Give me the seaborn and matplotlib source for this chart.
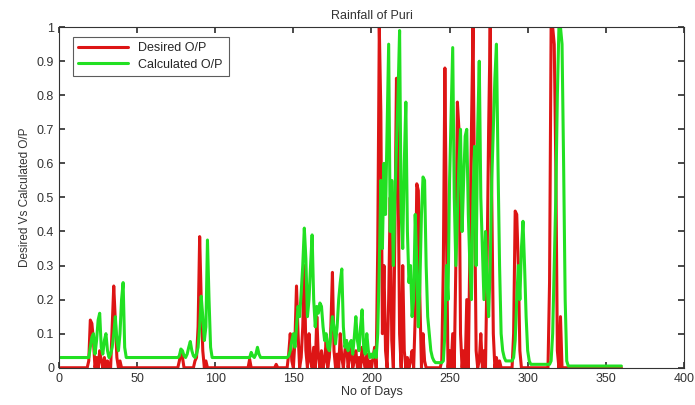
import pandas as pd
import numpy as np
import seaborn as sns
import matplotlib.pyplot as plt

# Valores diarios (dias 1..360)
deseado = (
    [0, 0, 0, 0, 0, 0, 0, 0, 0, 0]
    + [0, 0, 0, 0, 0, 0, 0, 0, 0.02, 0.14]
    + [0.13, 0.08, 0, 0.03, 0, 0.05, 0.02, 0, 0.03, 0]
    + [0.02, 0, 0, 0.12, 0.24, 0.14, 0.03, 0, 0.02, 0]
    + [0] * 30
    + [0, 0, 0, 0, 0, 0, 0.02, 0.05, 0.03, 0]
    + [0, 0, 0, 0, 0, 0, 0.02, 0.03, 0.12, 0.385]
    + [0.2, 0.05, 0, 0.02, 0, 0, 0, 0, 0, 0]
    + [0] * 20
    + [0, 0.025, 0, 0, 0, 0, 0, 0, 0, 0]
    + [0, 0, 0, 0, 0, 0, 0, 0, 0.01, 0]
    + [0, 0, 0, 0, 0, 0, 0.04, 0.1, 0.02, 0]
    + [0.08, 0.24, 0.1, 0, 0.03, 0.12, 0.3, 0.05, 0, 0.1]
    + [0.02, 0, 0.06, 0, 0.15, 0.03, 0, 0.05, 0, 0.02]
    + [0.08, 0, 0.03, 0.12, 0.28, 0.05, 0, 0.04, 0, 0.1]
    + [0.03, 0, 0.05, 0.08, 0, 0.03, 0.07, 0, 0.02, 0.05]
    + [0, 0.03, 0, 0.06, 0.02, 0, 0.04, 0, 0.02, 0]
    + [0.03, 0.06, 0, 0.35, 1.0, 0.75, 0.1, 0.3, 0.05, 0]
    + [0.2, 0.5, 0.08, 0, 0.4, 0.85, 0.6, 0.1, 0, 0.3]
    + [0.05, 0, 0.03, 0, 0.02, 0.05, 0, 0.15, 0.54, 0.52]
    + [0.2, 0, 0.1, 0.02, 0, 0, 0, 0, 0, 0]
    + [0, 0, 0, 0, 0.02, 0.3, 0.88, 0.4, 0, 0.05]
    + [0, 0.1, 0, 0.3, 0.78, 0.7, 0.1, 0, 0.05, 0]
    + [0.2, 0, 0.35, 0.7, 1.0, 0.5, 0.05, 0, 0.02, 0.1]
    + [0, 0.05, 0, 0.3, 0.7, 1.0, 0.5, 0.1, 0, 0.03]
    + [0, 0.02, 0, 0, 0, 0, 0, 0, 0, 0]
    + [0.1, 0.46, 0.45, 0.3, 0.05, 0, 0, 0, 0, 0]
    + [0] * 10
    + [0, 0, 0, 0.25, 1.0, 1.0, 0.95, 0.6, 0.05, 0]
    + [0.15, 0, 0, 0, 0, 0, 0, 0, 0, 0]
    + [0] * 30
)

calculado = (
    [0.03] * 10
    + [0.03, 0.03, 0.03, 0.03, 0.03, 0.03, 0.03, 0.03, 0.03, 0.06]
    + [0.09, 0.1, 0.04, 0.08, 0.14, 0.16, 0.06, 0.04, 0.08, 0.1]
    + [0.05, 0.03, 0.04, 0.06, 0.1, 0.15, 0.08, 0.05, 0.1, 0.2]
    + [0.25, 0.06, 0.03, 0.03, 0.03, 0.03, 0.03, 0.03, 0.03, 0.03]
    + [0.03] * 20
    + [0.03, 0.03, 0.03, 0.03, 0.03, 0.03, 0.035, 0.055, 0.05, 0.035]
    + [0.03, 0.04, 0.06, 0.077, 0.05, 0.035, 0.03, 0.04, 0.06, 0.12]
    + [0.21, 0.15, 0.08, 0.12, 0.375, 0.2, 0.06, 0.03, 0.03, 0.03]
    + [0.03] * 20
    + [0.03, 0.03, 0.045, 0.035, 0.03, 0.04, 0.06, 0.04, 0.03, 0.03]
    + [0.03] * 10
    + [0.03, 0.03, 0.03, 0.03, 0.03, 0.03, 0.035, 0.05, 0.08, 0.1]
    + [0.06, 0.12, 0.18, 0.15, 0.22, 0.3, 0.41, 0.32, 0.15, 0.2]
    + [0.3, 0.39, 0.2, 0.12, 0.18, 0.16, 0.19, 0.18, 0.12, 0.08]
    + [0.1, 0.06, 0.05, 0.1, 0.15, 0.12, 0.07, 0.12, 0.2, 0.25]
    + [0.29, 0.12, 0.06, 0.08, 0.05, 0.07, 0.08, 0.04, 0.09, 0.15]
    + [0.08, 0.05, 0.12, 0.17, 0.06, 0.04, 0.1, 0.05, 0.03, 0.04]
    + [0.03, 0.05, 0.03, 0.1, 0.3, 0.55, 0.35, 0.6, 0.45, 0.7]
    + [0.95, 0.4, 0.55, 0.3, 0.5, 0.65, 0.8, 0.99, 0.45, 0.35]
    + [0.6, 0.78, 0.4, 0.25, 0.3, 0.15, 0.2, 0.45, 0.3, 0.12]
    + [0.25, 0.45, 0.56, 0.55, 0.3, 0.15, 0.1, 0.05, 0.03, 0.02]
    + [0.015, 0.015, 0.015, 0.015, 0.015, 0.02, 0.1, 0.3, 0.2, 0.55]
    + [0.75, 0.94, 0.5, 0.3, 0.45, 0.6, 0.7, 0.4, 0.55, 0.68]
    + [0.7, 0.45, 0.3, 0.2, 0.5, 0.65, 0.3, 0.7, 0.9, 0.5]
    + [0.35, 0.2, 0.4, 0.25, 0.15, 0.3, 0.55, 0.7, 0.85, 0.95]
    + [0.6, 0.3, 0.1, 0.05, 0.03, 0.02, 0.02, 0.02, 0.02, 0.02]
    + [0.03, 0.08, 0.2, 0.3, 0.2, 0.35, 0.43, 0.3, 0.15, 0.05]
    + [0.02, 0.01, 0.01, 0.01, 0.01, 0.01, 0.01, 0.01, 0.01, 0.01]
    + [0.01, 0.01, 0.01, 0.01, 0.02, 0.1, 0.3, 0.5, 0.8, 1.0]
    + [1.0, 0.95, 0.6, 0.2, 0.02, 0.005, 0.005, 0.005, 0.005, 0.005]
    + [0.005] * 30
)

dias = np.arange(1, len(deseado) + 1)

df = pd.DataFrame({
    "dia": np.concatenate([dias, dias]),
    "valor": deseado + calculado,
    "serie": ["Desired O/P"] * len(dias) + ["Calculated O/P"] * len(dias),
})

sns.set_theme(style="ticks")
plt.rcParams["font.family"] = ["Liberation Sans", "DejaVu Sans"]

fig = plt.figure(figsize=(6.95, 4.05), dpi=100)
ax = fig.add_axes([0.085, 0.092, 0.899, 0.841])

sns.lineplot(data=df, x="dia", y="valor", hue="serie",
             palette={"Desired O/P": "#dd1515", "Calculated O/P": "#22e022"},
             linewidth=2.2, ax=ax)

ax.set_xlim(0, 400)
ax.set_ylim(0, 1)
ax.set_xticks(range(0, 401, 50))
ax.set_yticks(np.arange(0, 1.01, 0.1))
ax.set_yticklabels(["0", "0.1", "0.2", "0.3", "0.4", "0.5", "0.6", "0.7", "0.8", "0.9", "1"])
ax.tick_params(direction="in", top=True, right=True, labelsize=9, length=4, colors="#333333")
for s in ax.spines.values():
    s.set_color("#333333")
    s.set_linewidth(0.8)

ax.set_title("Rainfall of Puri", fontsize=9, color="#333333", pad=6)
ax.set_xlabel("No of Days", fontsize=9, color="#333333", labelpad=1)
ax.set_ylabel("Desired Vs Calculated O/P", fontsize=8.5, color="#333333", labelpad=4)

leg = ax.legend(loc="upper left", fontsize=9, frameon=True, fancybox=False,
                edgecolor="#333333", borderpad=0.45, handlelength=4.0,
                labelspacing=0.35, bbox_to_anchor=(0.012, 0.99))
leg.get_frame().set_linewidth(0.8)

fig.savefig("out.png", dpi=100)
